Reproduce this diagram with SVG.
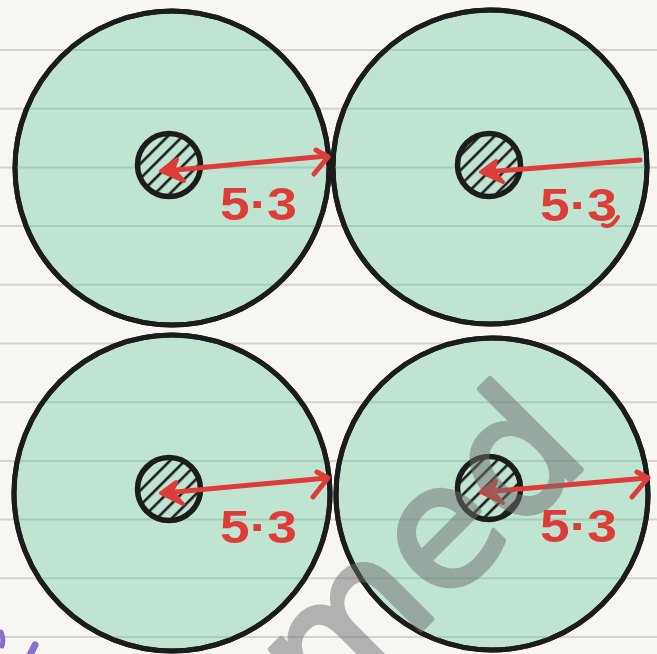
<svg xmlns="http://www.w3.org/2000/svg" width="657" height="654" viewBox="0 0 657 654">
<defs>
<style>
.bg{fill:#f8f6f2}
.rule{stroke:#d6d3cd;stroke-width:2}
.rule-in{stroke:#a2cfb9;stroke-width:2}
.disc{fill:#bfe4d2;stroke:#1c1c1c;stroke-width:5}
.hub{fill:url(#hatch);stroke:#1c1c1c;stroke-width:5.5}
.dim{fill:none;stroke:#dd3c39;stroke-width:5;stroke-linecap:round;stroke-linejoin:round}
.head{fill:#dd3c39;stroke:#dd3c39;stroke-width:4;stroke-linejoin:round}
.lbl{font-family:"Liberation Sans",Arial,sans-serif;font-weight:bold;font-size:47px;fill:#dd3c39}
.wm{font-family:"DejaVu Sans","Liberation Sans",sans-serif;font-weight:normal;font-size:170px;fill:#6e6e6e;stroke:#6e6e6e;stroke-width:5;stroke-linejoin:round}
.pen{fill:none;stroke:#8b6fcf;stroke-linecap:round}
</style>
<pattern id="hatch" width="10.5" height="10.5" patternUnits="userSpaceOnUse" patternTransform="rotate(45)">
<rect width="10.5" height="10.5" fill="#bfe4d2"/>
<line x1="5" y1="0" x2="5" y2="10.5" stroke="#1c1c1c" stroke-width="2.6"/>
</pattern>
<clipPath id="discs">
<circle cx="172" cy="168" r="157"/>
<circle cx="490" cy="167" r="157"/>
<circle cx="172" cy="493" r="158"/>
<circle cx="492" cy="494" r="156"/>
</clipPath>
</defs>
<rect class="bg" x="0" y="0" width="657" height="654"/>
<g id="rules">
<line class="rule" x1="0" y1="50" x2="657" y2="50"/>
<line class="rule" x1="0" y1="108.7" x2="657" y2="108.7"/>
<line class="rule" x1="0" y1="167.4" x2="657" y2="167.4"/>
<line class="rule" x1="0" y1="226.1" x2="657" y2="226.1"/>
<line class="rule" x1="0" y1="284.8" x2="657" y2="284.8"/>
<line class="rule" x1="0" y1="343.5" x2="657" y2="343.5"/>
<line class="rule" x1="0" y1="402.2" x2="657" y2="402.2"/>
<line class="rule" x1="0" y1="460.9" x2="657" y2="460.9"/>
<line class="rule" x1="0" y1="519.6" x2="657" y2="519.6"/>
<line class="rule" x1="0" y1="578.3" x2="657" y2="578.3"/>
<line class="rule" x1="0" y1="637" x2="657" y2="637"/>
</g>
<g id="node-top-left">
<circle class="disc" cx="172" cy="168" r="157"/>
</g>
<g id="node-top-right">
<circle class="disc" cx="490" cy="167" r="157"/>
</g>
<g id="node-bottom-left">
<circle class="disc" cx="172" cy="493" r="158"/>
</g>
<g id="node-bottom-right">
<circle class="disc" cx="492" cy="494" r="156"/>
</g>
<g id="rules-inside" clip-path="url(#discs)">
<line class="rule-in" x1="0" y1="50" x2="657" y2="50"/>
<line class="rule-in" x1="0" y1="108.7" x2="657" y2="108.7"/>
<line class="rule-in" x1="0" y1="167.4" x2="657" y2="167.4"/>
<line class="rule-in" x1="0" y1="226.1" x2="657" y2="226.1"/>
<line class="rule-in" x1="0" y1="284.8" x2="657" y2="284.8"/>
<line class="rule-in" x1="0" y1="402.2" x2="657" y2="402.2"/>
<line class="rule-in" x1="0" y1="460.9" x2="657" y2="460.9"/>
<line class="rule-in" x1="0" y1="519.6" x2="657" y2="519.6"/>
<line class="rule-in" x1="0" y1="578.3" x2="657" y2="578.3"/>
<line class="rule-in" x1="0" y1="637" x2="657" y2="637"/>
</g>
<g id="outlines">
<circle cx="172" cy="168" r="157" fill="none" stroke="#1c1c1c" stroke-width="5"/>
<circle cx="490" cy="167" r="157" fill="none" stroke="#1c1c1c" stroke-width="5"/>
<circle cx="172" cy="493" r="158" fill="none" stroke="#1c1c1c" stroke-width="5"/>
<circle cx="492" cy="494" r="156" fill="none" stroke="#1c1c1c" stroke-width="5"/>
</g>
<g id="hubs">
<circle id="hub-top-left" class="hub" cx="169" cy="165" r="31.5"/>
<circle id="hub-top-right" class="hub" cx="489" cy="165" r="31.5"/>
<circle id="hub-bottom-left" class="hub" cx="169" cy="489" r="31.5"/>
<circle id="hub-bottom-right" class="hub" cx="489" cy="488" r="31.5"/>
</g>
<g id="connectors">
<path class="dim" d="M165,171 L327,156"/>
<path class="dim" d="M316,150 L328,157 L314,174"/>
<polygon class="head" points="161,171 177,159 173,170 184,181"/>

<path class="dim" d="M485,172 L640,160"/>
<polygon class="head" points="481,172 496,161 493,171 503,182"/>

<path class="dim" d="M165,493 L327,478"/>
<path class="dim" d="M317,472 L328,478 L313,497"/>
<polygon class="head" points="161,493 176,482 172,492 183,504"/>

<path class="dim" d="M485,492 L647,478"/>
<path class="dim" d="M637,472 L648,478 L632,497"/>
<polygon class="head" points="481,492 496,481 492,491 503,503"/>
</g>
<g id="labels">
<text class="lbl" x="220" y="220" textLength="77" lengthAdjust="spacingAndGlyphs">5·3</text>
<text class="lbl" x="540" y="221" textLength="77" lengthAdjust="spacingAndGlyphs">5·3</text>
<path class="dim" d="M603,225 Q611,229 618,217" style="stroke-width:4"/>
<text class="lbl" x="220" y="543" textLength="77" lengthAdjust="spacingAndGlyphs">5·3</text>
<text class="lbl" x="540" y="542" textLength="77" lengthAdjust="spacingAndGlyphs">5·3</text>
</g>
<g id="watermark" opacity="0.5">
<text class="wm" x="325" y="726" transform="rotate(-45 325 726)">med</text>
</g>
<g id="pen-marks">
<path class="pen" d="M1,632 Q4,639 2,646" stroke-width="5"/>
<path class="pen" d="M35,645 L30,655" stroke-width="7"/>
</g>
</svg>
